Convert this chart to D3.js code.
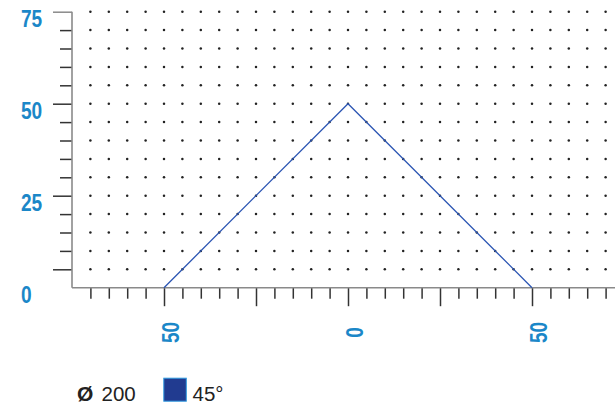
<!DOCTYPE html>
<html>
<head>
<meta charset="utf-8">
<script src="https://cdn.jsdelivr.net/npm/d3@7"></script>
<style>
  html, body { margin: 0; padding: 0; background: #fff; }
  svg { display: block; }
</style>
</head>
<body>
<svg id="chart" width="615" height="407"></svg>
<script>
// ── Data ────────────────────────────────────────────────────────────────
const linePoints = [[-50, 0], [0, 50], [50, 0]];          // series: angle profile
const xTickLabels = [[-50, '50'], [0, '0'], [50, '50']];   // [value, label]
const yTickLabels = [0, 25, 50, 75];
const xMajorTicks = [-50, -25, 0, 25, 50];
const yMajorTicks = [75, 50, 25, 5];
const legendDiameter = ['Ø', '200'];
const legendSeries = ['45°'];

// ── Layout ──────────────────────────────────────────────────────────────
const LABEL_BLUE = '#1b87c8';
const LINE_BLUE = '#2c56b3';
const AXIS_GREY = '#8a8a8a';
const TICK_DARK = '#333';
const LABEL_FONT = '"Liberation Sans", Arial, sans-serif';
const SQUEEZE = 0.83; // condensed look of the axis digits

const svg = d3.select('#chart');

const x = d3.scaleLinear().domain([-75, 75]).range([72, 624]);
const y = d3.scaleLinear().domain([0, 75]).range([287.7, 11.7]);

// Dot grid (every 5 units)
const gridX = d3.range(-70, 71, 5);
const gridY = d3.range(5, 76, 5);
const dots = [];
gridX.forEach(gx => gridY.forEach(gy => dots.push([gx, gy])));

svg.append('g')
  .selectAll('circle')
  .data(dots)
  .enter()
  .append('circle')
  .attr('cx', d => x(d[0]))
  .attr('cy', d => y(d[1]))
  .attr('r', 1.25)
  .attr('fill', '#222');

// Y axis: minor ticks then major ticks
const yMinor = d3.range(10, 71, 5).filter(v => !yMajorTicks.includes(v));
const yAxisMinor = svg.append('g')
  .attr('transform', `translate(${x(-75)},0)`)
  .call(d3.axisLeft(y).tickValues(yMinor).tickSize(12).tickFormat(''));
const yAxisMajor = svg.append('g')
  .attr('transform', `translate(${x(-75)},0)`)
  .call(d3.axisLeft(y).tickValues(yMajorTicks).tickSize(19).tickFormat(''));

[yAxisMinor, yAxisMajor].forEach(ax => {
  ax.select('.domain').remove();
  ax.selectAll('line').attr('stroke', TICK_DARK).attr('stroke-width', 1.5);
});
yAxisMajor.selectAll('line').filter(d => d === 75).attr('stroke', AXIS_GREY);

// X axis ticks (downward)
const xMinor = d3.range(-70, 71, 5).filter(v => !xMajorTicks.includes(v));
const xAxisMinor = svg.append('g')
  .attr('transform', `translate(0,${y(0)})`)
  .call(d3.axisBottom(x).tickValues(xMinor).tickSize(11).tickFormat(''));
const xAxisMajor = svg.append('g')
  .attr('transform', `translate(0,${y(0)})`)
  .call(d3.axisBottom(x).tickValues(xMajorTicks).tickSize(18.5).tickFormat(''));

[xAxisMinor, xAxisMajor].forEach(ax => {
  ax.select('.domain').remove();
  ax.selectAll('line').attr('stroke', TICK_DARK).attr('stroke-width', 1.5);
});

// Axis lines
svg.append('line')
  .attr('x1', x(-75)).attr('x2', x(-75))
  .attr('y1', y(75)).attr('y2', y(0))
  .attr('stroke', AXIS_GREY).attr('stroke-width', 1.6);
svg.append('line')
  .attr('x1', x(-75)).attr('x2', 615)
  .attr('y1', y(0)).attr('y2', y(0))
  .attr('stroke', AXIS_GREY).attr('stroke-width', 1.6);

// Series line
svg.append('path')
  .datum(linePoints)
  .attr('d', d3.line().x(d => x(d[0])).y(d => y(d[1])))
  .attr('fill', 'none')
  .attr('stroke', LINE_BLUE)
  .attr('stroke-width', 1.3);

// Y labels (left aligned)
svg.append('g')
  .selectAll('text')
  .data(yTickLabels)
  .enter()
  .append('text')
  .attr('transform', d => `translate(21,${y(d) + 15}) scale(${SQUEEZE},1)`)
  .attr('fill', LABEL_BLUE)
  .attr('font-family', LABEL_FONT)
  .attr('font-weight', 'bold')
  .attr('font-size', '23px')
  .text(d => d);

// X labels (rotated)
svg.append('g')
  .selectAll('text')
  .data(xTickLabels)
  .enter()
  .append('text')
  .attr('transform', d => `translate(${x(d[0]) + 14.7},332.5) rotate(-90) scale(${SQUEEZE},1)`)
  .attr('text-anchor', 'middle')
  .attr('fill', LABEL_BLUE)
  .attr('font-family', LABEL_FONT)
  .attr('font-weight', 'bold')
  .attr('font-size', '23px')
  .text(d => d[1]);

// Legend
const legend = svg.append('g').attr('font-family', LABEL_FONT)
  .attr('font-size', '20.5px').attr('fill', '#222');
legend.append('text').attr('x', 77).attr('y', 401)
  .attr('font-weight', 'bold').attr('font-size', '21px').text(legendDiameter[0]);
legend.append('text').attr('x', 101.5).attr('y', 401).text(legendDiameter[1]);
legend.append('rect')
  .attr('x', 163.8).attr('y', 378.2)
  .attr('width', 22.5).attr('height', 23)
  .attr('fill', '#213b90')
  .attr('stroke', '#2f9ae0')
  .attr('stroke-width', 1);
legend.append('text').attr('x', 192.5).attr('y', 401).text(legendSeries[0]);
</script>
</body>
</html>
